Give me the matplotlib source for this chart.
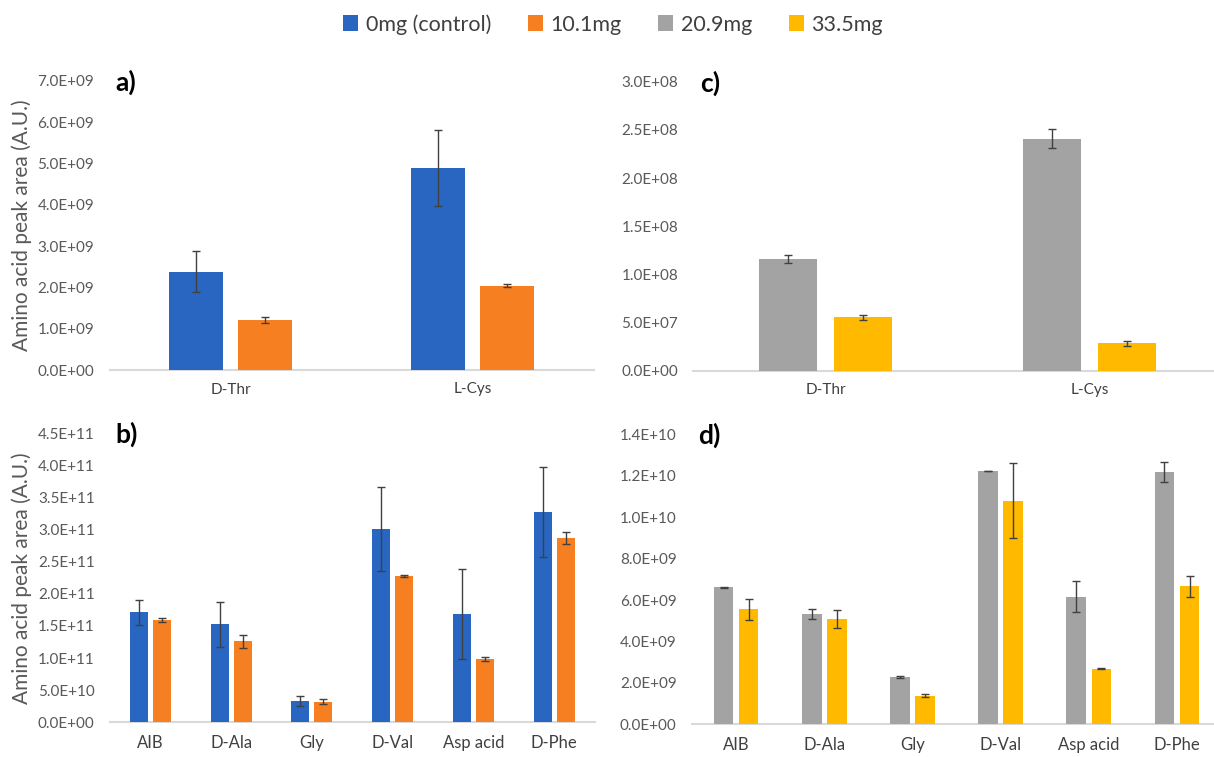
import matplotlib
matplotlib.use("Agg")
import matplotlib.pyplot as plt
from matplotlib.patches import Patch
import numpy as np

plt.rcParams['font.family'] = ['Lato', 'DejaVu Sans']

W, H = 1214, 757

# data
series_names = ["0mg (control)", "10.1mg", "20.9mg", "33.5mg"]
series_colors = ["#2966C2", "#F57F21", "#A3A3A3", "#FFBA00"]

amino_top = ["D-Thr", "L-Cys"]
amino_bottom = ["AIB", "D-Ala", "Gly", "D-Val", "Asp acid", "D-Phe"]

# panel a (0mg, 10.1mg)
a_control = [2.38e9, 4.88e9]
a_control_err = [0.49e9, 0.92e9]
a_10mg = [1.21e9, 2.04e9]
a_10mg_err = [0.08e9, 0.03e9]

# panel c (20.9mg, 33.5mg)
c_20mg = [1.16e8, 2.41e8]
c_20mg_err = [0.04e8, 0.10e8]
c_33mg = [5.55e7, 2.85e7]
c_33mg_err = [0.25e7, 0.25e7]

# panel b
b_control = [1.71e11, 1.53e11, 0.33e11, 3.01e11, 1.68e11, 3.28e11]
b_control_err = [0.19e11, 0.35e11, 0.08e11, 0.66e11, 0.70e11, 0.70e11]
b_10mg = [1.59e11, 1.26e11, 0.32e11, 2.28e11, 0.99e11, 2.87e11]
b_10mg_err = [0.03e11, 0.10e11, 0.04e11, 0.01e11, 0.03e11, 0.10e11]

# panel d
d_20mg = [6.61e9, 5.34e9, 2.30e9, 12.23e9, 6.16e9, 12.19e9]
d_20mg_err = [0.03e9, 0.25e9, 0.05e9, 0.02e9, 0.76e9, 0.47e9]
d_33mg = [5.55e9, 5.08e9, 1.37e9, 10.80e9, 2.68e9, 6.66e9]
d_33mg_err = [0.50e9, 0.44e9, 0.07e9, 1.83e9, 0.03e9, 0.50e9]


def px_axes(fig, left, right, top, bottom):
    return fig.add_axes([left / W, 1 - bottom / H, (right - left) / W, (bottom - top) / H])


def bar_panel(ax, cats, v1, e1, v2, e2, c1, c2, ymax, ystep, xright, label, lsize):
    x = np.arange(len(cats))
    w = 0.223
    off = 0.142
    ekw = dict(ecolor="#404040", elinewidth=1.0, capsize=3, capthick=1.0)
    ax.bar(x - off, v1, w, color=c1, yerr=e1, error_kw=ekw, zorder=2)
    ax.bar(x + off, v2, w, color=c2, yerr=e2, error_kw=ekw, zorder=2)
    ax.set_xlim(-0.5, xright)
    ax.set_ylim(0, ymax)
    ticks = np.arange(0, ymax + ystep / 2, ystep)
    ax.set_yticks(ticks)
    ax.set_yticklabels([f"{v:.1E}" for v in ticks])
    ax.set_xticks(x)
    ax.set_xticklabels(cats, fontsize=lsize, color="#404040")
    ax.tick_params(axis="y", length=0, pad=11, labelsize=11, labelcolor="#595959")
    ax.tick_params(axis="x", length=0, pad=9)
    for s in ["top", "right", "left"]:
        ax.spines[s].set_visible(False)
    ax.spines["bottom"].set_color("#D9D9D9")
    ax.spines["bottom"].set_linewidth(1.5)
    ax.spines["bottom"].set_zorder(1)
    ax.set_facecolor("none")
    ax.text(0.012, 0.995, label, transform=ax.transAxes, fontsize=19, fontweight="bold",
            ha="left", va="center", color="black")


fig = plt.figure(figsize=(W / 100, H / 100), dpi=100)

ax_a = px_axes(fig, 109.5, 594, 80.7, 370)
bar_panel(ax_a, amino_top, a_control, a_control_err, a_10mg, a_10mg_err,
          series_colors[0], series_colors[1], 7e9, 1e9, 1.5, "a)", 11)
ax_a.set_ylabel("Amino acid peak area (A.U.)", fontsize=15, color="#595959", labelpad=4)

ax_b = px_axes(fig, 110, 594.6, 433.3, 722.3)
bar_panel(ax_b, amino_bottom, b_control, b_control_err, b_10mg, b_10mg_err,
          series_colors[0], series_colors[1], 4.5e11, 0.5e11, 5.5, "b)", 12)
ax_b.set_ylabel("Amino acid peak area (A.U.)", fontsize=15, color="#595959", labelpad=4)

ax_c = px_axes(fig, 693.5, 1214, 81.7, 370.7)
bar_panel(ax_c, amino_top, c_20mg, c_20mg_err, c_33mg, c_33mg_err,
          series_colors[2], series_colors[3], 3e8, 0.5e8, (1214 - 825.5) / 264, "c)", 11)

ax_d = px_axes(fig, 692, 1214, 434.3, 724.3)
bar_panel(ax_d, amino_bottom, d_20mg, d_20mg_err, d_33mg, d_33mg_err,
          series_colors[2], series_colors[3], 1.4e10, 0.2e10, (1214 - 736) / 88.2, "d)", 12)

handles = [Patch(facecolor=c, edgecolor="none") for c in series_colors]
fig.legend(handles, series_names, loc="center", bbox_to_anchor=(0.505, 0.968), ncol=4,
           frameon=False, fontsize=15.5, handlelength=0.7, handleheight=0.7,
           handletextpad=0.35, columnspacing=1.7, labelcolor="#404040")

fig.savefig("out.png", dpi=100)
